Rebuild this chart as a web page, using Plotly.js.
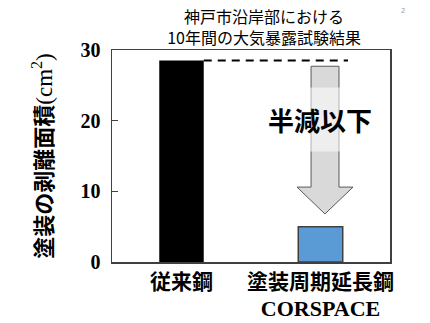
<!DOCTYPE html>
<html>
<head>
<meta charset="utf-8">
<script src="https://cdn.plot.ly/plotly-3.0.1.min.js"></script>
<style>html,body{margin:0;padding:0;background:#fff;}#chart{width:430px;height:323px;}</style>
</head>
<body>
<div id="chart"></div>
<script>
// ---- data ----
const categories = ['従来鋼', '塗装周期延長鋼'];
const tickLabels = [
  '従来鋼',
  '塗装周期延長鋼<br><span style="font-family:Liberation Serif;font-weight:bold;font-size:22px">CORSPACE</span>'
];
const peelArea = [28.5, 5.0];       // 塗装の剥離面積 (cm²)
const yTicks = [0, 10, 20, 30];
const barColors = ['#000000', '#5b9bd5'];
const titleText = '神戸市沿岸部における<br>10年間の大気暴露試験結果';
const yTitle = '塗装の剥離面積<span style="font-family:Liberation Serif;font-weight:normal;font-size:23px">(cm<sup>2</sup>)</span>';
const calloutText = '半減以下';

const CJK = 'Noto Sans CJK JP';

const trace = {
  type: 'bar',
  x: categories,
  y: peelArea,
  width: 0.32,
  marker: {
    color: barColors,
    line: {color: ['#000000', '#404040'], width: [0, 1.5]}
  },
  hoverinfo: 'skip'
};

// arrow (in data coordinates)
const arrowPath = 'M0.932,27.7 L1.133,27.7 L1.133,10.6 L1.234,10.6 L1.032,6.8 L0.831,10.6 L0.932,10.6 Z';

const layout = {
  width: 430, height: 323,
  margin: {l: 112, r: 40, t: 50, b: 61},
  paper_bgcolor: '#ffffff',
  plot_bgcolor: '#ffffff',
  showlegend: false,
  title: {
    text: titleText,
    font: {family: CJK, size: 16, color: '#000', lineposition: 'none'},
    xref: 'container', x: 0.614, xanchor: 'center',
    yref: 'container', y: 0.928, yanchor: 'middle'
  },
  xaxis: {
    type: 'category',
    range: [-0.5, 1.5],
    tickvals: categories,
    ticktext: tickLabels,
    tickfont: {family: CJK, size: 21, color: '#000', weight: 'bold'},
    ticks: '',
    showgrid: false, zeroline: false,
    showline: true, mirror: true, linecolor: '#404040', linewidth: 1.5,
    fixedrange: true
  },
  yaxis: {
    range: [0, 30],
    tickvals: yTicks,
    ticktext: yTicks.map(String),
    tickfont: {family: 'Liberation Serif', size: 20, color: '#000', weight: 'bold'},
    ticks: 'inside', ticklen: 6, tickcolor: '#404040', tickwidth: 1.2,
    ticklabelstandoff: 6,
    showgrid: false, zeroline: false,
    showline: true, mirror: true, linecolor: '#404040', linewidth: 1.5,
    title: {text: yTitle, font: {family: CJK, size: 22, color: '#000', weight: 'bold'}, standoff: 22},
    fixedrange: true
  },
  shapes: [
    {type: 'line', xref: 'x', yref: 'y', x0: 0.16, x1: 1.198, y0: peelArea[0], y1: peelArea[0],
     line: {color: '#000', width: 2, dash: '8px,6px'}},
    {type: 'path', xref: 'x', yref: 'y', path: arrowPath,
     fillcolor: '#d9d9d9', line: {color: '#595959', width: 1}}
  ],
  annotations: [
    {text: calloutText, xref: 'x', yref: 'y', x: 0.996, y: 20.1, showarrow: false,
     font: {family: CJK, size: 26, color: '#000', weight: 'bold'},
     bgcolor: 'rgba(255,255,255,0.55)', width: 126, height: 61},
    {text: '2', xref: 'paper', yref: 'paper', x: 1.061, y: 1.21, showarrow: false,
     font: {family: 'DejaVu Sans', size: 7, color: '#999'}}
  ]
};

Plotly.newPlot('chart', [trace], layout, {displayModeBar: false, staticPlot: true});
</script>
</body>
</html>
